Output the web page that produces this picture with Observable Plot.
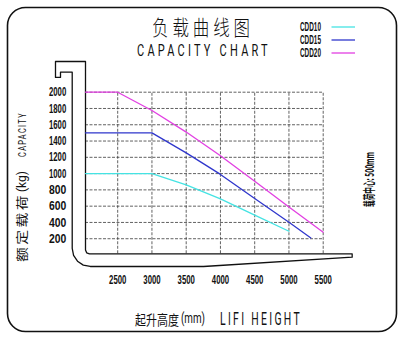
<!DOCTYPE html>
<html>
<head>
<meta charset="utf-8">
<script src="https://cdn.jsdelivr.net/npm/d3@7"></script>
<script src="https://cdn.jsdelivr.net/npm/@observablehq/plot@0.6"></script>
<style>
  html, body { margin: 0; padding: 0; background: #fff; }
  #chart { width: 403px; height: 337px; }
</style>
</head>
<body>
<div id="chart"></div>
<script>
// ---- data ----
const xTicks = [2500, 3000, 3500, 4000, 4500, 5000, 5500];
const yTicks = [200, 400, 600, 800, 1000, 1200, 1400, 1600, 1800, 2000];
const seriesNames = ["CDD10", "CDD15", "CDD20"];
const seriesColors = ["#45e3e3", "#2f36cc", "#e23fe2"];

const cdd10Height = [2030, 3000, 3500, 4000, 4500, 5000];
const cdd10Load   = [1000, 1000, 862, 690, 489, 292];
const cdd15Height = [2030, 3000, 3500, 4000, 4500, 5000, 5320];
const cdd15Load   = [1500, 1500, 1255, 990, 694, 403, 210];
const cdd20Height = [2030, 2500, 3000, 3500, 4000, 4500, 5000, 5500];
const cdd20Load   = [2000, 2000, 1775, 1510, 1220, 905, 590, 280];

// fork (mast + tine) outline, in data units
const forkX = [2030, 1592, 1592, 1665, 1665, 1836, 1836, 1856, 1913, 1998, 2099, 3753, 5923, 5923, 2088, 2047, 2030, 2030];
const forkY = [2377, 2377, 2181, 2181, 2246, 2246, 80, -5, -76, -124, -141, -141, -27, 15, 15, 27, 61, 2377];

const xDomain = [2030, 5500];
const yDomain = [0, 2000];
const gridBottom = 15;

// ---- tables built from the arrays ----
const series = [
  ...cdd10Height.map((h, i) => ({name: "CDD10", h, load: cdd10Load[i]})),
  ...cdd15Height.map((h, i) => ({name: "CDD15", h, load: cdd15Load[i]})),
  ...cdd20Height.map((h, i) => ({name: "CDD20", h, load: cdd20Load[i]}))
];
const fork = forkX.map((x, i) => ({x, y: forkY[i]}));

const fontCJK = "'Noto Sans CJK SC', sans-serif";
const fontThin = "Roboto, 'Liberation Sans', sans-serif";
const fontNarrow = "'Liberation Sans Narrow', 'Liberation Sans', sans-serif";
const gridStyle = {stroke: "#3a3a3a", strokeDasharray: "3,1.5", strokeWidth: 0.8};

const svg = Plot.plot({
  width: 403,
  height: 337,
  marginLeft: 85,
  marginRight: 80.3,
  marginTop: 91.7,
  marginBottom: 82.5,
  x: {domain: xDomain, axis: null},
  y: {domain: yDomain, axis: null},
  color: {domain: seriesNames, range: seriesColors},
  style: {background: "#fff", overflow: "visible"},
  marks: [
    Plot.ruleY(yTicks, {y: d => d, x1: xDomain[0], x2: xDomain[1], ...gridStyle}),
    Plot.ruleX(xTicks, {x: d => d, y1: gridBottom, y2: yDomain[1], ...gridStyle}),
    Plot.line(fork, {x: "x", y: "y", stroke: "#111", strokeWidth: 1.3, clip: false}),
    Plot.line(series, {x: "h", y: "load", z: "name", stroke: "name", strokeWidth: 1.3}),
    Plot.text(yTicks, {x: xDomain[0], y: d => d, text: d => String(d), dx: -19.3, textAnchor: "end",
      fontFamily: fontNarrow, fontWeight: "bold", fontSize: 13, fill: "#111"}),
    Plot.text(xTicks, {x: d => d, y: yDomain[0], text: d => String(d), dy: 24.8,
      fontFamily: fontNarrow, fontWeight: "bold", fontSize: 13, fill: "#111"})
  ]
});
document.getElementById("chart").appendChild(svg);

const root = d3.select(svg);
// compress tick labels to the narrow look of the original
const tickStrings = new Set([...xTicks, ...yTicks].map(String));
root.selectAll("text").filter(function() { return tickStrings.has(this.textContent); })
  .attr("textLength", 17.3).attr("lengthAdjust", "spacingAndGlyphs");

// border
root.append("rect").attr("x", 7.5).attr("y", 7.5).attr("width", 389).attr("height", 324)
  .attr("rx", 18).attr("ry", 18).attr("fill", "none").attr("stroke", "#111").attr("stroke-width", 1.6);

// text starting at (x,y), scaled horizontally so that it spans `length` px
function addText(str, x, y, o) {
  const g = root.append("g").attr("transform", `translate(${x},${y})` + (o.rotate ? ` rotate(${o.rotate})` : ""));
  const inner = g.append("g");
  const t = inner.append("text").text(str)
    .attr("x", 0).attr("y", 0)
    .attr("text-anchor", "start")
    .attr("dominant-baseline", "central")
    .attr("font-family", o.family)
    .attr("font-size", o.size)
    .attr("font-weight", o.weight || "normal")
    .attr("fill", "#111");
  if (o.spacing) t.attr("letter-spacing", o.spacing);
  const w = t.node().getComputedTextLength();
  const sx = o.length && w > 0 ? o.length / w : 1;
  inner.attr("transform", `scale(${sx},1)`);
  return t;
}

// titles
addText("负载曲线图", 152, 26, {family: fontCJK, size: 21, weight: 300, spacing: 5, length: 102});
addText("CAPACITY CHART", 137, 50.5, {family: fontThin, size: 17, weight: 400, spacing: 5, length: 134});

// legend
const legendY = [27, 40, 53];
seriesNames.forEach((n, i) => {
  addText(n, 300, legendY[i], {family: fontNarrow, size: 12, weight: "bold", length: 21});
  root.append("line").attr("x1", 331.5).attr("x2", 355).attr("y1", legendY[i]).attr("y2", legendY[i])
    .attr("stroke", seriesColors[i]).attr("stroke-width", 1.3);
});

// y-axis title (rotated, reads bottom to top)
addText("额定载荷", 21.5, 262, {rotate: -90, family: fontCJK, size: 12, spacing: 2, length: 69});
addText("(kg)", 21.5, 192, {rotate: -90, family: fontThin, size: 13, weight: 400, length: 21});
addText("CAPACITY", 21.5, 157, {rotate: -90, family: fontThin, size: 11, weight: 400, spacing: 2, length: 45});

// x-axis title
addText("起升高度", 135, 318.5, {family: fontCJK, size: 14, length: 44});
addText("(mm)", 181, 318.5, {family: fontThin, size: 14, weight: 400, length: 24});
addText("LIFI HEIGHT", 220, 318.5, {family: fontThin, size: 18, weight: 400, spacing: 4, length: 82});

// load centre note
addText("载荷中心: 500mm", 369, 207, {rotate: -90, family: fontCJK, size: 12, weight: "bold", length: 55});
</script>
</body>
</html>
